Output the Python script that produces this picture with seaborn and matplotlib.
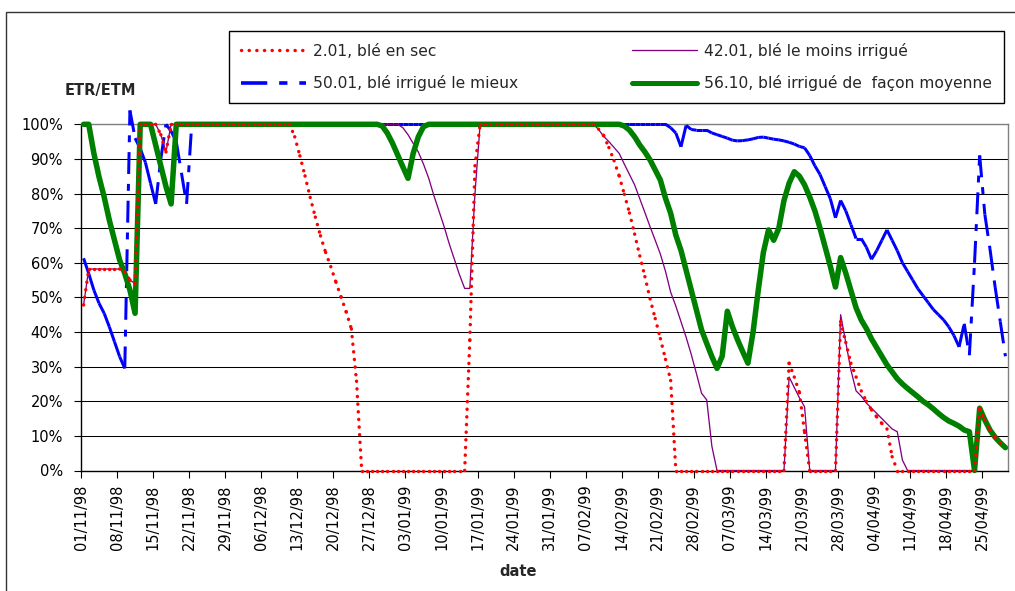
import datetime as dt
import pandas as pd
import matplotlib
matplotlib.use("Agg")
import matplotlib.pyplot as plt
import seaborn as sns
from matplotlib.lines import Line2D
from matplotlib.patches import Rectangle
from matplotlib.ticker import PercentFormatter

# ---------------- data ----------------
start = dt.date(1998, 11, 1)
n_days = 180
days = list(range(n_days))
tick_days = list(range(0, n_days, 7))
tick_labels = [(start + dt.timedelta(days=d)).strftime("%d/%m/%y") for d in tick_days]

series_labels = ["2.01, blé en sec",
                 "42.01, blé le moins irrigué",
                 "50.01, blé irrigué le mieux",
                 "56.10, blé irrigué de  façon moyenne"]

# ETR/ETM in percent, one value per day from 01/11/98
ble_en_sec = [
    47.8, 58.2, 58.2, 58.2, 58.2, 58.2, 58.2, 58.2, 57.4, 55,
    54, 100, 100, 100, 100, 97, 92, 100, 100, 100,
    100, 100, 100, 100, 100, 100, 100, 100, 100, 100,
    100, 100, 100, 100, 100, 100, 100, 100, 100, 100,
    100, 96.4, 90.9, 85.1, 78.9, 73.2, 67.8, 63.0, 58.9, 54.4,
    50.1, 45.8, 40.9, 25.8, 0, 0, 0, 0, 0, 0,
    0, 0, 0, 0, 0, 0, 0, 0, 0, 0,
    0, 0, 0, 0, 0, 37.7, 88, 100, 100, 100,
    100, 100, 100, 100, 100, 100, 100, 100, 100, 100,
    100, 100, 100, 100, 100, 100, 100, 100, 100, 100,
    98.6, 96.7, 93.3, 89.5, 85.1, 79.8, 74.4, 68.3, 62, 56,
    49.6, 43.9, 38.1, 32.1, 26, 0, 0, 0, 0, 0,
    0, 0, 0, 0, 0, 0, 0, 0, 0, 0,
    0, 0, 0, 0, 0, 0, 0, 31, 27, 22.5,
    11, 0, 0, 0, 0, 0, 0, 43, 37, 31,
    27, 23, 20, 17.5, 15.5, 13.6, 12, 4, 0, 0,
    0, 0, 0, 0, 0, 0, 0, 0, 0, 0,
    0, 0, 0, 0, 18, 14.6, 11.7, 9.6, 8, 6.6,
]

ble_moins_irrigue = [
    47.8, 58.2, 58.2, 58.2, 58.2, 58.2, 58.2, 58.2, 57.4, 55,
    54, 100, 100, 100, 100, 97, 92, 100, 100, 100,
    100, 100, 100, 100, 100, 100, 100, 100, 100, 100,
    100, 100, 100, 100, 100, 100, 100, 100, 100, 100,
    100, 100, 100, 100, 100, 100, 100, 100, 100, 100,
    100, 100, 100, 100, 100, 100, 100, 100, 100, 100,
    100, 100, 99, 97, 94.5, 92, 88.5, 84.5, 79.5, 75,
    70.5, 65.5, 61, 56.5, 52.6, 52.6, 80, 100, 100, 100,
    100, 100, 100, 100, 100, 100, 100, 100, 100, 100,
    100, 100, 100, 100, 100, 100, 100, 100, 100, 100,
    98.5, 96.5, 95, 93.3, 91.6, 88.5, 85.5, 82.5, 78.5, 74.5,
    70.4, 66.5, 62.5, 57.5, 51.5, 47.5, 43, 38.5, 33.5, 28,
    22.3, 20.4, 7, 0, 0, 0, 0, 0, 0, 0,
    0, 0, 0, 0, 0, 0, 0, 27, 24, 21,
    18.4, 0, 0, 0, 0, 0, 0, 45, 37, 29,
    23, 21.5, 19.5, 18, 16.5, 15, 13.5, 12, 11.2, 3,
    0, 0, 0, 0, 0, 0, 0, 0, 0, 0,
    0, 0, 0, 0, 18, 14.6, 11.7, 9.6, 8, 6.6,
]

ble_irrigue_mieux = [
    61.3, 56.9, 52.1, 48.3, 45.4, 41.5, 37.2, 32.9, 29.5, 104,
    96, 93, 89, 83, 77, 90, 100, 98, 95, 86,
    77, 100, 100, 100, 100, 100, 100, 100, 100, 100,
    100, 100, 100, 100, 100, 100, 100, 100, 100, 100,
    100, 100, 100, 100, 100, 100, 100, 100, 100, 100,
    100, 100, 100, 100, 100, 100, 100, 100, 100, 100,
    100, 100, 100, 100, 100, 100, 100, 100, 100, 100,
    100, 100, 100, 100, 100, 100, 100, 100, 100, 100,
    100, 100, 100, 100, 100, 100, 100, 100, 100, 100,
    100, 100, 100, 100, 100, 100, 100, 100, 100, 100,
    100, 100, 100, 100, 100, 100, 100, 100, 100, 100,
    100, 100, 100, 100, 99, 97.5, 93.5, 99.7, 98.5, 98.3,
    98.3, 98.3, 97.5, 97, 96.5, 96, 95.4, 95.2, 95.3, 95.5,
    95.8, 96.2, 96.3, 96, 95.7, 95.5, 95.2, 94.8, 94.3, 93.6,
    93.2, 91, 88, 85.5, 82, 78.5, 73, 78, 75, 71,
    67, 67, 64.5, 61, 63.5, 66.5, 69.5, 66.5, 63.5, 60,
    57.5, 55, 52.5, 50.5, 48.5, 46.5, 45, 43.5, 41.5, 39,
    35.7, 42.4, 33.3, 60, 91, 74, 64, 53, 43, 33,
]

ble_irrigue_moyen = [
    100, 100, 91.6, 84.8, 79, 72.3, 66.6, 60.8, 56.9, 52.1,
    45.4, 100, 100, 100, 94, 88, 82, 77, 100, 100,
    100, 100, 100, 100, 100, 100, 100, 100, 100, 100,
    100, 100, 100, 100, 100, 100, 100, 100, 100, 100,
    100, 100, 100, 100, 100, 100, 100, 100, 100, 100,
    100, 100, 100, 100, 100, 100, 100, 100, 99.5, 97.4,
    94.5, 91.1, 87.7, 84.4, 91.6, 96.4, 99.3, 100, 100, 100,
    100, 100, 100, 100, 100, 100, 100, 100, 100, 100,
    100, 100, 100, 100, 100, 100, 100, 100, 100, 100,
    100, 100, 100, 100, 100, 100, 100, 100, 100, 100,
    100, 100, 100, 100, 100, 99.5, 98.3, 96.4, 94, 92,
    89.7, 86.8, 83.9, 78.6, 74.3, 68, 63.6, 57.9, 52.1, 46.3,
    40.6, 36.7, 32.9, 29.5, 33, 46, 41.5, 37.7, 34.3, 31,
    40, 52, 63, 69.5, 66.5, 70, 78, 83, 86.3, 85,
    82.5, 79, 75, 70, 64.5, 59, 53, 61.5, 57, 52,
    47, 43.5, 41, 38, 35.5, 33, 30.5, 28.5, 26.5, 25,
    23.7, 22.5, 21.3, 20, 19, 17.8, 16.5, 15.3, 14.3, 13.6,
    12.8, 11.7, 11.2, 0, 18, 14.6, 11.7, 9.6, 8, 6.6,
]

# ---------------- style ----------------
sns.set_style("ticks")
plt.rcParams["font.family"] = ["DejaVu Sans"]
PX = 0.72  # points per pixel at 100 dpi

RED, PURPLE, BLUE, GREEN = "#FF0000", "#800080", "#0000FF", "#008000"
RED_LS = (0, (0.05, 2.2))
BLUE_LS = (0, (7.3, 3.3, 2.3, 3.3))

fig = plt.figure(figsize=(10.15, 5.91), dpi=100)
ax = fig.add_axes([81 / 1015, 1 - 470.5 / 591, 927 / 1015, (470.5 - 124.3) / 591])


def segment_frame(vals):
    """Each day-to-day step as its own unit, so the dash pattern restarts
    on every segment (as in the original spreadsheet chart)."""
    rows = []
    for i in range(len(vals) - 1):
        rows.append({"seg": i, "day": days[i], "val": vals[i]})
        rows.append({"seg": i, "day": days[i + 1], "val": vals[i + 1]})
    return pd.DataFrame(rows)


common = dict(x="day", y="val", estimator=None, ax=ax, legend=False,
              clip_on=False, errorbar=None)

sns.lineplot(data=segment_frame(ble_irrigue_mieux), units="seg", color=BLUE,
             linewidth=3 * PX, linestyle=BLUE_LS, dash_capstyle="butt",
             zorder=3.0, **common)
sns.lineplot(data=pd.DataFrame({"day": days, "val": ble_moins_irrigue}),
             color=PURPLE, linewidth=1.3 * PX, zorder=3.1, **common)
sns.lineplot(data=pd.DataFrame({"day": days, "val": ble_irrigue_moyen}),
             color=GREEN, linewidth=5.5 * PX, solid_joinstyle="round",
             zorder=3.2, **common)
sns.lineplot(data=segment_frame(ble_en_sec), units="seg", color=RED,
             linewidth=3.4 * PX, linestyle=RED_LS, dash_capstyle="round",
             zorder=3.3, **common)

# ---------------- axes ----------------
ax.set_xlim(-0.5, n_days - 0.5)
ax.set_ylim(0, 100)
ax.set_xticks([d - 0.5 for d in tick_days])
ax.set_xticklabels(tick_labels, rotation=90, va="top", ha="center")
ax.set_yticks(list(range(0, 101, 10)))
ax.yaxis.set_major_formatter(PercentFormatter(xmax=100, decimals=0))
ax.tick_params(axis="x", length=5, width=0.8, pad=5, labelsize=10.5, colors="black")
ax.tick_params(axis="y", length=5, width=0.8, pad=8, labelsize=10.5, colors="black")
ax.set_xlabel("")
ax.set_ylabel("")
ax.grid(axis="y", color="black", linewidth=0.75)
ax.grid(axis="x", visible=False)
ax.set_axisbelow(True)
for side in ("top", "right"):
    ax.spines[side].set_visible(True)
    ax.spines[side].set_color("#808080")
    ax.spines[side].set_linewidth(1.0)
for side in ("left", "bottom"):
    ax.spines[side].set_color("black")
    ax.spines[side].set_linewidth(1.0)

fig.text(100 / 1015, 1 - 90 / 591, "ETR/ETM", ha="center", va="center",
         fontsize=10.5, fontweight="bold")
fig.text(518 / 1015, 1 - 572 / 591, "date", ha="center", va="center",
         fontsize=10.5, fontweight="bold")

# ---------------- legend ----------------
handles = [
    Line2D([], [], color=RED, linewidth=3.4 * PX, linestyle=RED_LS,
           dash_capstyle="round"),
    Line2D([], [], color=BLUE, linewidth=3.6 * PX, linestyle=BLUE_LS),
    Line2D([], [], color=PURPLE, linewidth=1.3 * PX),
    Line2D([], [], color=GREEN, linewidth=5 * PX),
]
leg_labels = [series_labels[0], series_labels[2], series_labels[1], series_labels[3]]
leg = fig.legend(handles, leg_labels, ncol=2, loc="upper left",
                 bbox_to_anchor=(229 / 1015, 1 - 31 / 591),
                 bbox_transform=fig.transFigure, frameon=True, fancybox=False,
                 shadow=False, framealpha=1, edgecolor="black", fontsize=11.2,
                 handlelength=4.2, handletextpad=0.45, columnspacing=7.3,
                 labelspacing=1.05, borderpad=0.75, borderaxespad=0)
leg.get_frame().set_linewidth(1.0)

# outer chart frame (only left and top edges fall inside the image)
fig.add_artist(Rectangle((6 / 1015, -0.1), 1.2, (1 - 11.7 / 591) + 0.1,
                         transform=fig.transFigure, fill=False,
                         edgecolor="#333333", linewidth=1.0, zorder=0))

fig.savefig("out.png", dpi=100)
